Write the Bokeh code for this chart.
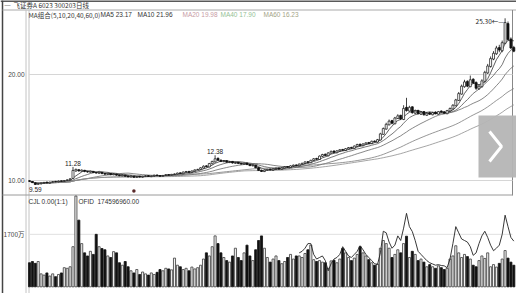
from bokeh.plotting import figure
from bokeh.models import Range1d, Label, ColumnDataSource
from bokeh.embed import file_html
from bokeh.resources import INLINE

W, H = 516, 293

# ---------------- data ----------------
opens = [
    9.98, 9.90, 9.78, 9.64, 9.68, 9.74, 9.85, 9.76, 9.84, 9.92,
    9.88, 9.97, 9.92, 10.02, 10.06, 10.20, 10.90, 11.02, 10.88, 10.96,
    10.86, 10.78, 10.86, 10.76, 10.68, 10.76, 10.66, 10.58, 10.66, 10.54,
    10.60, 10.52, 10.44, 10.50, 10.42, 10.34, 10.40, 10.30, 10.40, 10.32,
    10.38, 10.46, 10.36, 10.42, 10.52, 10.47, 10.40, 10.47, 10.56, 10.50,
    10.56, 10.60, 10.72, 10.64, 10.78, 10.86, 10.76, 10.88, 11.02, 11.04,
    11.18, 11.38, 11.28, 11.58, 11.75, 12.10, 11.92, 11.78, 11.86, 11.70,
    11.80, 11.62, 11.72, 11.62, 11.52, 11.64, 11.52, 11.38, 11.44, 11.22,
    10.97, 10.84, 10.96, 11.07, 10.98, 11.08, 11.17, 11.06, 11.18, 11.32,
    11.22, 11.36, 11.47, 11.38, 11.53, 11.60, 11.78, 11.68, 11.88, 12.08,
    11.98, 12.28, 12.48, 12.33, 12.58, 12.78, 12.62, 12.78, 12.93, 12.83,
    12.98, 13.12, 13.03, 13.22, 13.42, 13.28, 13.43, 13.58, 13.48, 13.72,
    13.62, 13.82, 14.35, 14.85, 15.25, 15.65, 15.35, 15.85, 16.15, 15.75,
    16.90, 16.55, 16.95, 16.35, 16.60, 16.25, 16.50, 16.15, 16.40, 16.20,
    16.45, 16.25, 16.55, 16.48, 16.30, 16.55, 16.75, 17.05, 17.55, 18.15,
    18.85, 19.35, 18.85, 19.55, 19.25, 18.65, 18.85, 19.35, 20.15, 20.75,
    21.45, 21.95, 22.55, 22.25, 22.95, 24.80, 23.35, 22.55,
]
closes = [
    9.92, 9.80, 9.62, 9.70, 9.75, 9.82, 9.78, 9.85, 9.90, 9.88,
    9.95, 9.93, 10.00, 10.05, 10.15, 10.95, 11.05, 10.90, 10.98, 10.85,
    10.80, 10.88, 10.75, 10.70, 10.78, 10.65, 10.60, 10.68, 10.55, 10.62,
    10.50, 10.45, 10.52, 10.40, 10.35, 10.42, 10.30, 10.38, 10.33, 10.40,
    10.45, 10.38, 10.42, 10.50, 10.46, 10.40, 10.48, 10.55, 10.50, 10.58,
    10.62, 10.70, 10.66, 10.80, 10.85, 10.78, 10.90, 11.00, 11.05, 11.20,
    11.35, 11.30, 11.60, 11.80, 12.05, 11.90, 11.80, 11.85, 11.72, 11.78,
    11.65, 11.70, 11.60, 11.55, 11.62, 11.50, 11.40, 11.45, 11.20, 10.95,
    10.85, 10.98, 11.05, 11.00, 11.10, 11.15, 11.08, 11.20, 11.30, 11.25,
    11.38, 11.45, 11.40, 11.55, 11.62, 11.75, 11.70, 11.90, 12.05, 12.00,
    12.30, 12.45, 12.35, 12.60, 12.75, 12.65, 12.80, 12.90, 12.85, 13.00,
    13.10, 13.05, 13.25, 13.40, 13.30, 13.45, 13.55, 13.50, 13.70, 13.65,
    13.85, 14.40, 14.90, 15.30, 15.60, 15.40, 15.90, 16.10, 15.80, 16.80,
    16.60, 16.90, 16.40, 16.55, 16.30, 16.45, 16.20, 16.35, 16.25, 16.40,
    16.30, 16.50, 16.45, 16.35, 16.60, 16.80, 17.10, 17.60, 18.20, 18.90,
    19.30, 18.90, 19.50, 19.20, 18.70, 18.90, 19.40, 20.20, 20.80, 21.50,
    22.00, 22.50, 22.30, 23.00, 24.90, 23.30, 22.50, 22.20,
]
highs = [
    10.02, 9.95, 9.82, 9.74, 9.80, 9.86, 9.88, 9.88, 9.94, 9.96,
    9.99, 10.00, 10.04, 10.10, 10.22, 11.28, 11.12, 11.06, 11.04, 11.00,
    10.90, 10.92, 10.90, 10.80, 10.82, 10.80, 10.70, 10.72, 10.70, 10.66,
    10.64, 10.56, 10.56, 10.54, 10.46, 10.46, 10.44, 10.42, 10.44, 10.44,
    10.50, 10.50, 10.46, 10.54, 10.56, 10.50, 10.52, 10.60, 10.60, 10.62,
    10.66, 10.74, 10.76, 10.84, 10.90, 10.90, 10.94, 11.04, 11.10, 11.26,
    11.42, 11.44, 11.66, 11.86, 12.38, 12.16, 11.98, 11.92, 11.92, 11.84,
    11.84, 11.76, 11.76, 11.66, 11.68, 11.68, 11.56, 11.50, 11.48, 11.26,
    11.02, 11.04, 11.10, 11.12, 11.15, 11.20, 11.22, 11.26, 11.36, 11.36,
    11.44, 11.50, 11.52, 11.60, 11.68, 11.80, 11.82, 11.96, 12.12, 12.14,
    12.36, 12.52, 12.54, 12.66, 12.82, 12.84, 12.86, 12.96, 12.98, 13.06,
    13.16, 13.18, 13.30, 13.46, 13.48, 13.50, 13.60, 13.64, 13.76, 13.78,
    13.92, 14.50, 15.00, 15.45, 15.75, 15.72, 16.00, 16.25, 16.20, 17.10,
    17.80, 17.05, 17.00, 16.65, 16.68, 16.55, 16.55, 16.45, 16.48, 16.48,
    16.52, 16.56, 16.62, 16.55, 16.66, 16.88, 17.20, 17.70, 18.35, 19.05,
    19.50, 19.45, 19.90, 19.65, 19.35, 19.05, 19.55, 20.35, 21.00, 21.70,
    22.20, 22.70, 22.80, 23.20, 25.30, 25.00, 23.50, 22.70,
]
lows = [
    9.86, 9.76, 9.59, 9.62, 9.64, 9.70, 9.74, 9.72, 9.80, 9.84,
    9.84, 9.88, 9.88, 9.98, 10.02, 10.15, 10.82, 10.84, 10.82, 10.78,
    10.74, 10.74, 10.70, 10.64, 10.64, 10.60, 10.54, 10.54, 10.50, 10.50,
    10.46, 10.40, 10.40, 10.36, 10.30, 10.30, 10.26, 10.26, 10.28, 10.28,
    10.34, 10.34, 10.32, 10.38, 10.42, 10.36, 10.36, 10.44, 10.46, 10.46,
    10.52, 10.56, 10.62, 10.60, 10.74, 10.74, 10.72, 10.84, 10.98, 11.00,
    11.14, 11.24, 11.24, 11.52, 11.70, 11.84, 11.74, 11.72, 11.68, 11.64,
    11.60, 11.58, 11.56, 11.50, 11.48, 11.46, 11.36, 11.34, 11.16, 10.90,
    10.80, 10.80, 10.92, 10.96, 10.94, 11.04, 11.02, 11.02, 11.14, 11.20,
    11.18, 11.32, 11.36, 11.34, 11.48, 11.56, 11.64, 11.64, 11.84, 11.94,
    11.94, 12.22, 12.30, 12.28, 12.54, 12.60, 12.58, 12.74, 12.80, 12.78,
    12.94, 13.00, 12.98, 13.18, 13.24, 13.24, 13.38, 13.44, 13.44, 13.60,
    13.58, 13.78, 14.30, 14.80, 15.20, 15.30, 15.30, 15.80, 15.70, 15.70,
    16.50, 16.50, 16.30, 16.25, 16.25, 16.18, 16.12, 16.10, 16.18, 16.15,
    16.25, 16.20, 16.40, 16.30, 16.25, 16.50, 16.70, 17.00, 17.50, 18.10,
    18.75, 18.80, 18.80, 19.10, 18.55, 18.55, 18.75, 19.25, 20.05, 20.65,
    21.35, 21.85, 22.10, 22.10, 22.85, 23.20, 22.40, 22.10,
]
# volume in 万 (10k shares)
volumes = [
    780, 820, 760, 820, 420, 380, 450, 350, 420, 330,
    400, 450, 620, 600, 650, 1300, 2940, 2160, 1400, 1100,
    1000, 1150, 1050, 1700, 1300, 1240, 1200, 1000, 950, 1140,
    1100, 780, 700, 820, 650, 520, 450, 560, 400, 480,
    420, 380, 450, 400, 470, 560, 520, 600, 580, 550,
    930, 700, 650, 560, 600, 520, 640, 580, 620, 700,
    900, 1100, 1000, 1300, 1650, 1400, 1100, 950, 850, 800,
    1000, 1250, 950, 850, 1100, 1350, 1000, 850, 1200, 1500,
    1650, 1250, 950, 800, 900, 1000, 850, 750, 820, 950,
    1050, 900, 1000, 1000, 950, 1080, 1200, 1350, 880, 820,
    850, 800, 780, 600, 840, 860, 780, 900, 1240, 1100,
    950, 850, 930, 1050, 1300, 1100, 1000, 880, 780, 700,
    740, 1250, 1500, 1400, 1250, 950, 1050, 1200, 1100, 1400,
    1640, 950, 1150, 1050, 850, 900, 800, 650, 720, 650,
    600, 680, 620, 560, 600, 900, 1000, 1330, 1100, 950,
    1050, 980, 900, 700, 650, 850, 1000, 920, 1100, 650,
    720, 640, 760, 900, 1175, 930, 800, 700,
]
vol_line_start = 93
vol_line = [
    1100, 1150, 1250, 1400, 1400, 1050, 900,
    950, 1000, 850, 520, 750, 900, 950, 1050, 1300, 1150,
    1000, 950, 1050, 1150, 1330, 1200, 1050, 950, 850, 750,
    720, 1100, 1800, 1750, 1450, 1250, 1350, 1650, 1500, 1900,
    2380, 1950, 1790, 1500, 1150, 1050, 950, 850, 780, 740,
    700, 720, 690, 680, 620, 900, 1400, 1950, 1750, 1550,
    1500, 1450, 1300, 1020, 1100, 1400, 1650, 1800, 1600, 1350,
    1170, 1250, 1350, 1700, 2320, 1950, 1600, 1480,
]
ma_periods = [5, 10, 20, 40, 60]
ma_texts = ["MA5 23.17", "MA10 21.96", "MA20 19.98", "MA40 17.90", "MA60 16.23"]
price_ticks = [20, 10]
vol_ticks = [1700]
vol_tick_labels = ["1700万"]
marked_high_idx = [15, 64]
max_idx = 164
min_idx = 2
event_idx = [36]
title_text = "飞证券A 6023  300203日线"
ma_header = "MA组合(5,10,20,40,60,0)"
vol_header = ["CJL 0.00(1:1)", "OFID", "174596960.00"]

# ---------------- layout ----------------
X0, X1 = -10.0, 167.93
Y0, Y1 = -0.66, 26.98
V0, V1 = -216.0, 9273.0


def px_x(px):
    return X0 + px / W * (X1 - X0)


def px_y(py):
    return Y1 - py / H * (Y1 - Y0)


def px_v(py):
    return V1 - py / H * (V1 - V0)


p = figure(width=W, height=H, x_range=Range1d(X0, X1), y_range=Range1d(Y0, Y1),
           output_backend="svg", toolbar_location=None,
           x_axis_location=None, y_axis_location=None,
           min_border=0, min_border_left=0, min_border_right=0,
           min_border_top=0, min_border_bottom=0)
p.extra_y_ranges = {"vol": Range1d(V0, V1)}
p.grid.visible = False
p.outline_line_color = None
p.background_fill_color = "white"

NUM = "Liberation Sans"
CJK = "Noto Sans CJK SC"

# frame lines
p.segment(x0=[px_x(0)], y0=[px_y(0.6)], x1=[px_x(516)], y1=[px_y(0.6)], line_color="#222", line_width=1.5)
p.segment(x0=[px_x(2)], y0=[px_y(0)], x1=[px_x(2)], y1=[px_y(293)], line_color="#444", line_width=1.5)
p.segment(x0=[px_x(2)], y0=[px_y(9.5)], x1=[px_x(516)], y1=[px_y(9.5)], line_color="#aaaaaa", line_width=1)
p.segment(x0=[px_x(25.5), px_x(28.5)], y0=[px_y(9.5), px_y(9.5)],
          x1=[px_x(25.5), px_x(28.5)], y1=[px_y(293), px_y(293)], line_color="#c4c4c4", line_width=1)
p.segment(x0=[px_x(512)], y0=[px_y(9.5)], x1=[px_x(512)], y1=[px_y(195)], line_color="#888888", line_width=1)
p.segment(x0=[px_x(2)], y0=[px_y(194.5)], x1=[px_x(512)], y1=[px_y(194.5)], line_color="#9a9a9a", line_width=1)

# grid lines
p.segment(x0=[px_x(28.5)] * len(price_ticks), y0=price_ticks, x1=[px_x(512)] * len(price_ticks),
          y1=price_ticks, line_color="#d6d6d6", line_width=1)
p.segment(x0=[px_x(28.5)] * len(vol_ticks), y0=vol_ticks, x1=[px_x(512)] * len(vol_ticks),
          y1=vol_ticks, line_color="#e0e0e0", line_width=1, y_range_name="vol")

n = len(closes)
idx = list(range(n))
up = [closes[i] >= opens[i] for i in idx]

# moving averages (from closes)
ma_colors = ["#333333", "#555555", "#6a6a6a", "#7c7c7c", "#8e8e8e"]
for per, col in zip(ma_periods, ma_colors):
    vals = []
    for i in idx:
        w = closes[max(0, i - per + 1): i + 1]
        vals.append(sum(w) / len(w))
    p.line(idx, vals, line_color=col, line_width=0.8)

# candles
p.segment(x0=idx, y0=lows, x1=idx, y1=highs, line_color="#111111", line_width=0.8)
up_src = ColumnDataSource(dict(
    x=[i for i in idx if up[i]],
    top=[max(opens[i], closes[i]) for i in idx if up[i]],
    bottom=[min(opens[i], closes[i]) for i in idx if up[i]],
))
dn_src = ColumnDataSource(dict(
    x=[i for i in idx if not up[i]],
    top=[max(opens[i], closes[i]) for i in idx if not up[i]],
    bottom=[min(opens[i], closes[i]) for i in idx if not up[i]],
))
p.vbar(x="x", top="top", bottom="bottom", width=0.7, source=up_src,
       fill_color="white", line_color="#111111", line_width=0.7)
p.vbar(x="x", top="top", bottom="bottom", width=0.7, source=dn_src,
       fill_color="#111111", line_color="#111111", line_width=0.7)

# event marker
p.scatter(x=event_idx, y=[px_y(190.5)] * len(event_idx), size=3.5, marker="circle",
          fill_color="#5a2a2a", line_color=None)

# volume
vu = ColumnDataSource(dict(x=[i for i in idx if up[i]], top=[volumes[i] for i in idx if up[i]]))
vd = ColumnDataSource(dict(x=[i for i in idx if not up[i]], top=[volumes[i] for i in idx if not up[i]]))
p.vbar(x="x", top="top", bottom=0, width=0.72, source=vu, y_range_name="vol",
       fill_color="#f2f2f2", line_color="#3a3a3a", line_width=0.8)
p.vbar(x="x", top="top", bottom=0, width=0.72, source=vd, y_range_name="vol",
       fill_color="#111111", line_color="#111111", line_width=0.8)
p.line(list(range(vol_line_start, vol_line_start + len(vol_line))), vol_line,
       y_range_name="vol", line_color="#222222", line_width=0.9)

# overlay (carousel arrow)
p.quad(left=[px_x(478)], right=[px_x(517)], top=[px_y(115)], bottom=[px_y(177)],
       fill_color="#b5b5b5", fill_alpha=0.95, line_color=None)
p.line([px_x(489), px_x(501), px_x(489)], [px_y(131), px_y(146), px_y(161)],
       line_color="white", line_width=3)

# ---------------- texts ----------------
def slabel(x, py, text, color="#333333", size="6.5px", font=NUM, align="left"):
    p.add_layout(Label(x=x, y=H - py, x_units="screen", y_units="screen", text=text,
                       text_color=color, text_font_size=size, text_font=font,
                       text_align=align, text_baseline="middle"))


slabel(4, 4.5, "—", color="#444444", size="6px")
slabel(13, 4.5, title_text, color="#333333", size="6.5px", font=CJK)
slabel(28, 14, ma_header, color="#333333", size="6.5px", font=CJK)
ma_x = [100, 137, 182, 220, 263]
ma_tc = ["#333333", "#333333", "#c79aa4", "#95bf95", "#a3a386"]
for xx, t, c in zip(ma_x, ma_texts, ma_tc):
    slabel(xx, 14, t, color=c, size="6.5px")

for t in price_ticks:
    p.add_layout(Label(x=24, y=t, x_units="screen", y_units="data", text=f"{t:.2f}",
                       text_color="#444444", text_font_size="6.5px", text_font=NUM,
                       text_align="right", text_baseline="middle"))
for t, s in zip(vol_ticks, vol_tick_labels):
    p.add_layout(Label(x=24, y=t, x_units="screen", y_units="data", y_range_name="vol", text=s,
                       text_color="#444444", text_font_size="6.5px", text_font=CJK,
                       text_align="right", text_baseline="middle"))

for i in marked_high_idx:
    p.add_layout(Label(x=i, y=highs[i], text=f"{highs[i]:.2f}", text_color="#222222",
                       text_font_size="6.5px", text_font=NUM, text_align="center",
                       text_baseline="bottom", y_offset=1))
p.add_layout(Label(x=max_idx, y=highs[max_idx], text=f"{highs[max_idx]:.2f}←—", text_color="#222222",
                   text_font_size="6.5px", text_font=CJK, text_align="right",
                   text_baseline="middle", x_offset=-1, y_offset=-3))
p.add_layout(Label(x=min_idx, y=lows[min_idx], text=f"{lows[min_idx]:.2f}", text_color="#222222",
                   text_font_size="6.5px", text_font=NUM, text_align="center",
                   text_baseline="top", y_offset=-2))

slabel(28, 200.5, vol_header[0], color="#333333")
slabel(78, 200.5, vol_header[1], color="#333333")
slabel(97, 200.5, vol_header[2], color="#333333")

open("out.html", "w").write(file_html(p, INLINE))
